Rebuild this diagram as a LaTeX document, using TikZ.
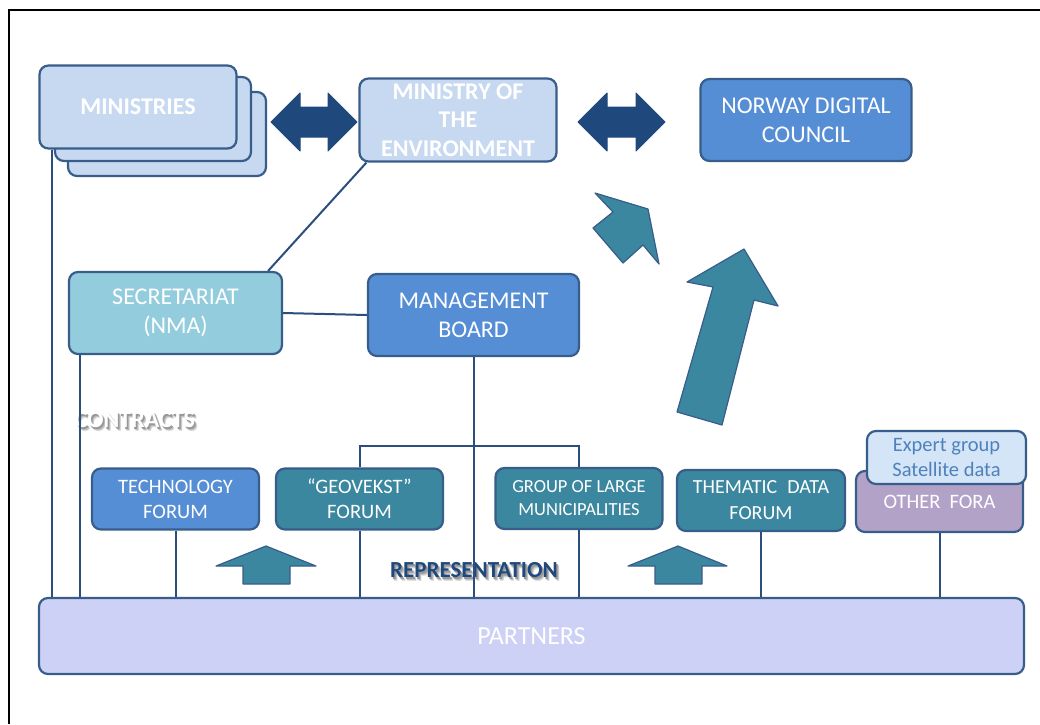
\documentclass[tikz,border=0pt]{standalone}
\usepackage{fontspec}
\setmainfont{Carlito}
\usetikzlibrary{positioning}

\definecolor{paleblue}{HTML}{C6D9F1}
\definecolor{edgeblue}{HTML}{385D8A}
\definecolor{navy}{HTML}{1F497D}
\definecolor{midblue}{HTML}{558ED5}
\definecolor{forumteal}{HTML}{3B879F}
\definecolor{aqua}{HTML}{93CDDD}
\definecolor{lilac}{HTML}{B3A2C7}
\definecolor{icegray}{HTML}{D3E5F6}
\definecolor{expertblue}{HTML}{4F81BD}
\definecolor{partnerfill}{HTML}{CDD1F6}
\definecolor{linkblue}{HTML}{2B4E7E}

% text with a soft drop shadow
\newcommand\softshadow[2]{%
  \makebox[0pt][l]{\hspace{3pt}\raisebox{-4pt}{\color{black!12}#2}}%
  \makebox[0pt][l]{\hspace{2.5pt}\raisebox{-3pt}{\color{black!25}#2}}%
  \makebox[0pt][l]{\hspace{1.5pt}\raisebox{-2pt}{\color{black!40}#2}}%
  {\color{#1}#2}}

\tikzset{
  org/.style={draw=edgeblue, line width=2.2pt, rounded corners=9pt, align=center,
    text=white, inner sep=0pt, font=\fontsize{24}{29}\selectfont},
  bigbox/.style={org, minimum width=211pt, minimum height=82pt},
  forum/.style={org, fill=forumteal, minimum width=167pt, minimum height=61pt,
    font=\fontsize{20.5}{25}\selectfont},
  link/.style={draw=linkblue, line width=2pt},
  fatarrow/.style={fill=forumteal, draw=edgeblue, line width=1.2pt, line join=round},
  twinarrow/.style={fill=navy, draw=navy, line width=1pt, line join=round},
}

\begin{document}
\begin{tikzpicture}[x=1pt, y=-1pt]
\useasboundingbox (0,0) rectangle (1040,724);

% Frame
\draw[black, line width=1.5pt] (1040,10) -- (9,10) -- (9,724);

% Ministries (stacked)
\node[org, fill=paleblue, minimum width=198pt, minimum height=84pt] (ministriesC) at (167,134) {};
\node[org, fill=paleblue, minimum width=196pt, minimum height=84pt] (ministriesB) at (153,119) {};
\node[org, fill=paleblue, minimum width=197pt, minimum height=83pt,
  font=\fontsize{24}{29}\selectfont\bfseries] (ministries) at (138,107) {MINISTRIES};

% Top row
\node[org, fill=paleblue, minimum width=197pt, minimum height=83pt,
  font=\fontsize{24}{28.5}\selectfont\bfseries] (environment) at (458,120) {MINISTRY OF\\THE\\ENVIRONMENT};
\node[bigbox, fill=midblue] (council) at (806,120) {NORWAY DIGITAL\\COUNCIL};

% Double arrows
\fill[twinarrow] (271,122) -- (300,93) -- (300,107) -- (328,107) -- (328,93) -- (357,122)
  -- (328,151) -- (328,137) -- (300,137) -- (300,151) -- cycle;
\fill[twinarrow] (578,122) -- (607,93) -- (607,107) -- (636,107) -- (636,93) -- (665,122)
  -- (636,151) -- (636,137) -- (607,137) -- (607,151) -- cycle;

% Middle row
\node[bigbox, fill=aqua, minimum width=213pt] (secretariat) at (175.5,313) {SECRETARIAT\\(NMA)};
\node[bigbox, fill=midblue] (board) at (473.5,315) {MANAGEMENT\\BOARD};

% Arrows towards the council
\filldraw[fatarrow] (595,193) -- (648,209) -- (659,264) -- (643,245) -- (623,263)
  -- (593,228) -- (613,212) -- cycle;
\filldraw[fatarrow] (744,249) -- (778,306) -- (754,300) -- (722,425) -- (677,412)
  -- (713,287) -- (687,282) -- cycle;

% Forums
\node[forum, fill=midblue] (tech) at (175.5,499) {TECHNOLOGY\\FORUM};
\node[forum] (geovekst) at (359.5,499) {“GEOVEKST”\\FORUM};
\node[forum, font=\fontsize{18.5}{23}\selectfont] (group) at (579,498.5) {GROUP OF LARGE\\MUNICIPALITIES};
\node[forum, minimum width=168pt, font=\fontsize{20}{26}\selectfont] (thematic) at (761,500.5) {THEMATIC\hspace{0.5em}DATA\\FORUM};
\node[forum, fill=lilac] (otherfora) at (939.5,501.5) {\raisebox{-4pt}{OTHER\hspace{0.45em}FORA}};
\node[org, fill=icegray, text=expertblue, minimum width=159pt, minimum height=53pt,
  font=\fontsize{20.5}{25}\selectfont] (expert) at (946.5,457.5) {Expert group\\Satellite data};

% Partners
\node[org, fill=partnerfill, minimum width=985pt, minimum height=76pt,
  font=\fontsize{26}{30}\selectfont] (partners) at (531.5,636) {PARTNERS};

% Up arrows
\filldraw[fatarrow] (266,546) -- (316,566) -- (290,566) -- (290,584) -- (243,584) -- (243,566) -- (216,566) -- cycle;
\filldraw[fatarrow] (678,546) -- (727,566) -- (702,566) -- (702,584) -- (655,584) -- (655,566) -- (628,566) -- cycle;

% Labels
\node[font=\fontsize{24}{28}\selectfont\bfseries] (contracts) at (135,422) {\softshadow{white}{CONTRACTS}};
\node[font=\fontsize{23}{28}\selectfont\bfseries] (representation) at (474,572) {\softshadow{navy}{REPRESENTATION}};

% Connectors
\draw[link] ([xshift=8pt]environment.south west) -- ([xshift=-15pt]secretariat.north east);
\draw[link] (secretariat.east) -- (board.west);
\draw[link] (board.south) -- (board.south |- partners.north);
\coordinate (fork) at (board.south |- 0,446);
\draw[link] (geovekst.north) |- (fork) -| (group.north);
\draw[link] ([xshift=14pt]ministries.south west) -- ([xshift=14pt]ministries.south west |- partners.north);
\draw[link] ([xshift=12pt]secretariat.south west) -- ([xshift=12pt]secretariat.south west |- partners.north);
\foreach \f in {tech,geovekst,group,thematic,otherfora}
  \draw[link] (\f.south) -- (\f.south |- partners.north);

\end{tikzpicture}
\end{document}
